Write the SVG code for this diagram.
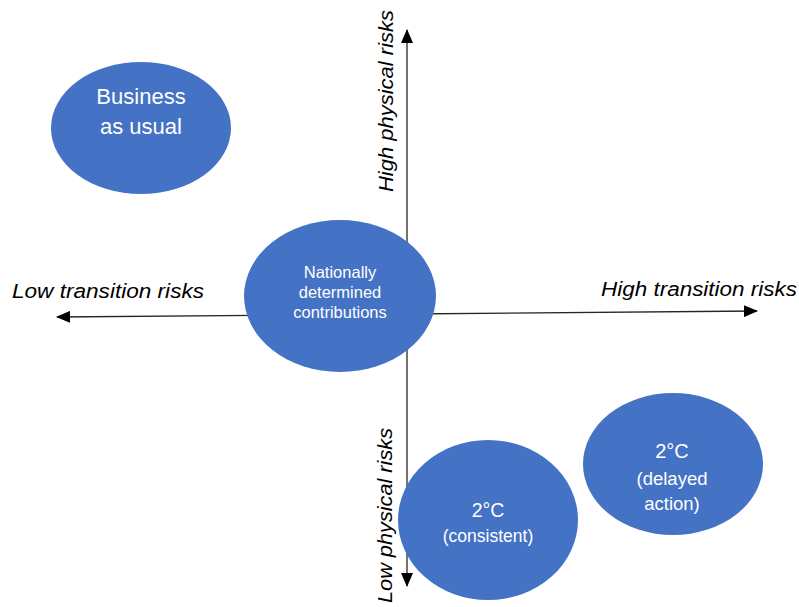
<svg xmlns="http://www.w3.org/2000/svg" width="799" height="607" viewBox="0 0 799 607">
  <style>
    .node { fill: #4472C4; }
    .nt { fill: #ffffff; font-family: "Liberation Sans", Arial, sans-serif; text-anchor: middle; }
    .axis { stroke: #262626; stroke-width: 1.3; fill: none; }
    .al { fill: #000000; font-family: "Liberation Sans", Arial, sans-serif; font-style: italic; font-size: 20px; }
  </style>
  <defs>
    <marker id="arrow" viewBox="0 0 14 12" refX="13" refY="6" markerWidth="14" markerHeight="12" markerUnits="userSpaceOnUse" orient="auto">
      <path d="M0,0 L14,6 L0,12 z" fill="#000000"/>
    </marker>
  </defs>
  <rect width="799" height="607" fill="#ffffff"/>

  <g id="connectors">
    <line class="axis" x1="407" y1="318" x2="407" y2="30" marker-end="url(#arrow)"/>
    <line class="axis" x1="407" y1="318" x2="407" y2="586" marker-end="url(#arrow)"/>
    <line class="axis" x1="407" y1="314" x2="757" y2="311" marker-end="url(#arrow)"/>
    <line class="axis" x1="407" y1="314" x2="57" y2="317" marker-end="url(#arrow)"/>
  </g>

  <g id="axis-labels">
    <text class="al" x="12" y="298" textLength="192" lengthAdjust="spacingAndGlyphs">Low transition risks</text>
    <text class="al" x="601" y="296" textLength="196" lengthAdjust="spacingAndGlyphs">High transition risks</text>
    <text class="al" transform="translate(393,192) rotate(-90)" textLength="182" lengthAdjust="spacingAndGlyphs">High physical risks</text>
    <text class="al" transform="translate(392,603) rotate(-90)" textLength="175" lengthAdjust="spacingAndGlyphs">Low physical risks</text>
  </g>

  <g id="business-as-usual">
    <ellipse class="node" cx="141" cy="128" rx="90" ry="66"/>
    <text class="nt" x="141" y="104" font-size="22">Business</text>
    <text class="nt" x="141" y="134" font-size="22">as usual</text>
  </g>

  <g id="ndc">
    <ellipse class="node" cx="340" cy="296" rx="96" ry="76"/>
    <text class="nt" x="340" y="278" font-size="16.5">Nationally</text>
    <text class="nt" x="340" y="298" font-size="16.5">determined</text>
    <text class="nt" x="340" y="318" font-size="16.5">contributions</text>
  </g>

  <g id="two-c-consistent">
    <ellipse class="node" cx="488" cy="520" rx="90" ry="80"/>
    <text class="nt" x="488" y="517" font-size="19.5">2°C</text>
    <text class="nt" x="488" y="542" font-size="17.5">(consistent)</text>
  </g>

  <g id="two-c-delayed">
    <ellipse class="node" cx="673" cy="464" rx="90" ry="71"/>
    <text class="nt" x="672" y="458" font-size="20">2°C</text>
    <text class="nt" x="672" y="485" font-size="18.5">(delayed</text>
    <text class="nt" x="672" y="510" font-size="18.5">action)</text>
  </g>
</svg>
